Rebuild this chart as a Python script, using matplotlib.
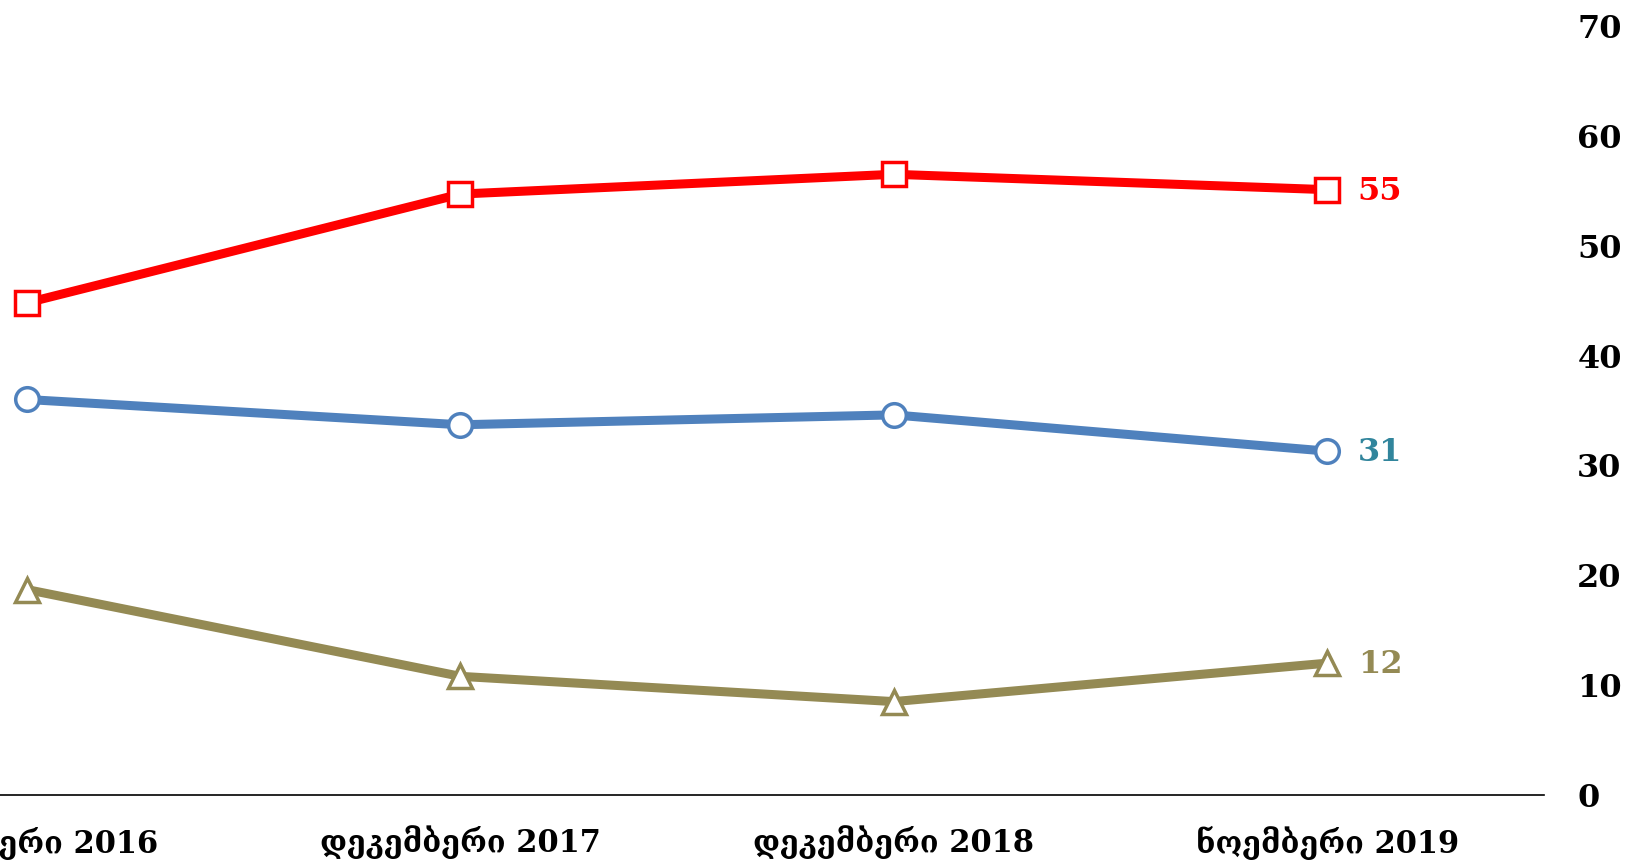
import matplotlib.pyplot as plt
import numpy as np

periods = ["ნოემბერი 2016", "დეკემბერი 2017", "დეკემბერი 2018", "ნოემბერი 2019"]
red_vals = [44.8, 54.7, 56.5, 55.1]
blue_vals = [36.0, 33.7, 34.6, 31.3]
olive_vals = [18.7, 10.8, 8.5, 12.0]
end_labels = ["55", "31", "12"]

plt.rcParams['font.family'] = ['DejaVu Serif', 'DejaVu Sans']

fig = plt.figure(figsize=(16.39, 8.66), dpi=100)
ax = fig.add_axes([0, 0.082, 0.942, 0.888])

x = np.arange(len(periods))
series = [
    (red_vals, "#FF0000", "s", "#FF0000"),
    (blue_vals, "#4F81BD", "o", "#31859C"),
    (olive_vals, "#948A54", "^", "#948A54"),
]
for (vals, col, mk, lcol), lab in zip(series, end_labels):
    ax.plot(x, vals, color=col, lw=6.5, marker=mk, markersize=17,
            markerfacecolor="white", markeredgecolor=col, markeredgewidth=2.5,
            clip_on=False, zorder=3)
    ax.annotate(lab, (x[-1], vals[-1]), xytext=(22, -1), textcoords="offset points",
                color=lcol, fontsize=23, fontweight="bold", va="center", ha="left")

ax.set_xlim(-0.062, 3.5)
ax.set_ylim(0, 70)
ax.set_xticks(x)
ax.set_xticklabels(periods, fontsize=22, fontweight="bold")
ax.set_yticks(np.arange(0, 71, 10))
ax.yaxis.tick_right()
ax.tick_params(axis="y", length=0, pad=24, labelsize=23)
ax.tick_params(axis="x", length=0, pad=22)
for t in ax.get_yticklabels():
    t.set_fontweight("bold")

for s in ["top", "left", "right"]:
    ax.spines[s].set_visible(False)
ax.spines["bottom"].set_linewidth(1.2)

fig.savefig("out.png", dpi=100)
